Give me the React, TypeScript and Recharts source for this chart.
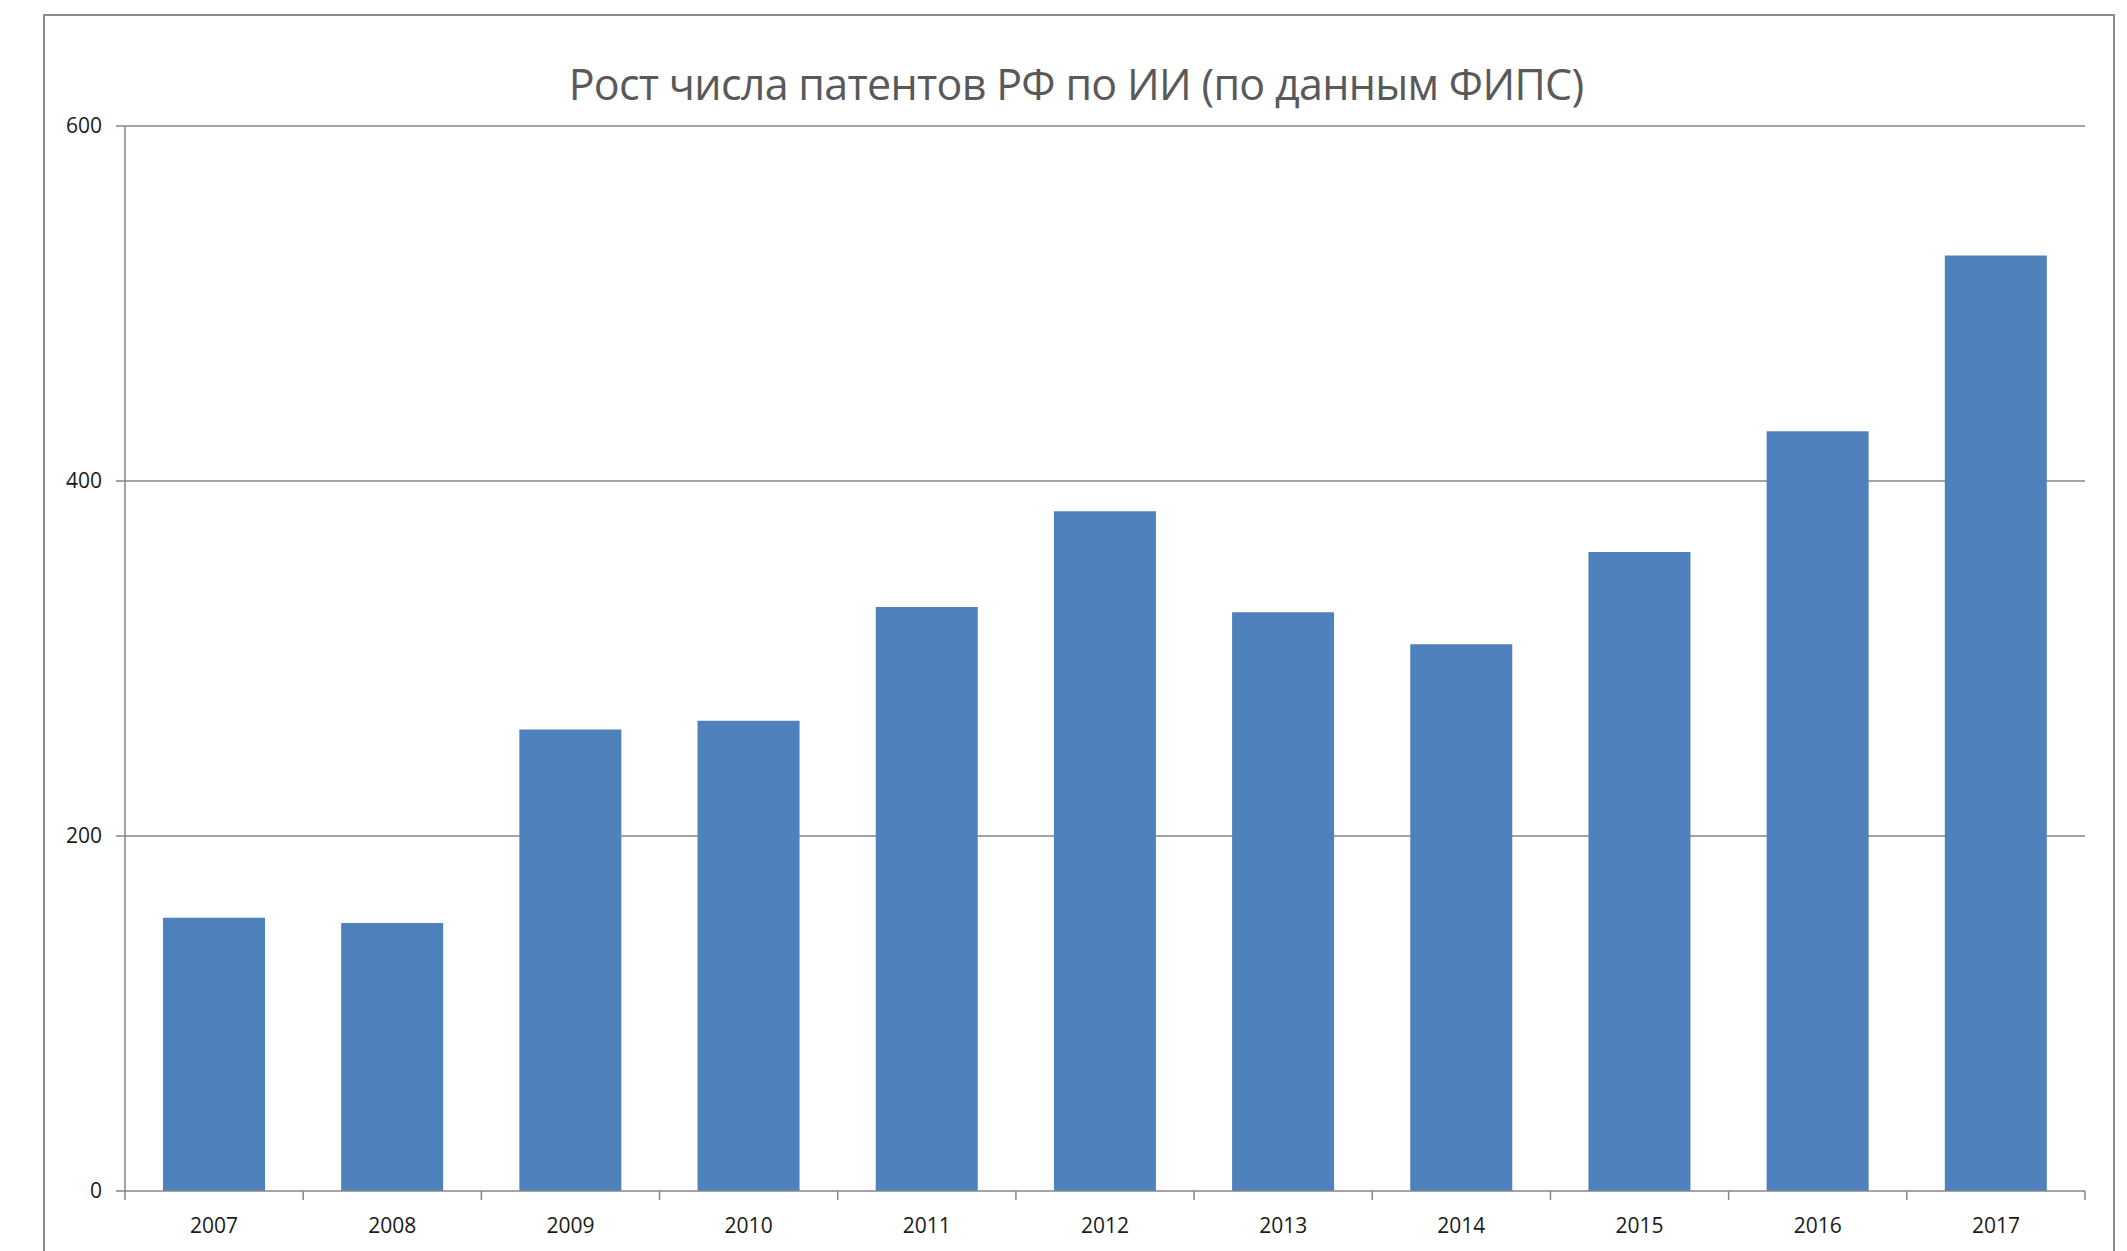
import React from 'react';
import { BarChart, Bar, XAxis, YAxis, CartesianGrid } from 'recharts';

const YEARS = ['2007', '2008', '2009', '2010', '2011', '2012', '2013', '2014', '2015', '2016', '2017'];
const PATENTS = [154, 151, 260, 265, 329, 383, 326, 308, 360, 428, 527];
const Y_TICKS = [0, 200, 400, 600];
const TITLE = 'Рост числа патентов РФ по ИИ (по данным ФИПС)';

const data = YEARS.map((year, i) => ({ year, value: PATENTS[i] }));

/* ——— Layout ——— */
const W = 2127;
const H = 1251;
const PLOT_LEFT = 125;
const PLOT_RIGHT = 2085;
const PLOT_TOP = 126;
const PLOT_BOTTOM = 1191;
const PLOT_W = PLOT_RIGHT - PLOT_LEFT;

const AXIS_GRAY = '#868686';
const BAR_BLUE = '#4F81BD';
const FONT = "'Open Sans', 'Noto Sans', sans-serif";

/* Year label centred in its band, tick mark on the band's left edge (Excel style) */
function YearTick(props: any) {
  const { x, y, payload, index } = props;
  const band = PLOT_W / YEARS.length;
  const left = x - band / 2;
  return (
    <g>
      <line x1={left} y1={y} x2={left} y2={y + 9} stroke={AXIS_GRAY} strokeWidth={1.5} />
      {index === YEARS.length - 1 && (
        <line x1={left + band} y1={y} x2={left + band} y2={y + 9} stroke={AXIS_GRAY} strokeWidth={1.5} />
      )}
      <text x={x} y={y + 42} textAnchor="middle" fontSize={21} fontFamily={FONT} fill="#1a1a1a">
        {payload.value}
      </text>
    </g>
  );
}

export default function App() {
  return (
    <div style={{ position: 'absolute', left: 0, top: 0, width: W, height: H, background: '#fff', overflow: 'hidden' }}>
      {/* outer chart frame */}
      <div
        style={{
          position: 'absolute', left: 43, top: 14, width: 2115 - 43, height: 1400,
          border: '2px solid #8c8c8c', boxSizing: 'border-box',
        }}
      />
      {/* title */}
      <div
        style={{
          position: 'absolute', left: 0, width: 2152, top: 60, textAlign: 'center',
          fontFamily: FONT, fontSize: 43, color: '#595959', lineHeight: '48px', letterSpacing: -0.7,
        }}
      >
        {TITLE}
      </div>
      <div style={{ position: 'absolute', left: 0, top: 0 }}>
        <BarChart
          width={W}
          height={H}
          data={data}
          margin={{ top: PLOT_TOP, right: W - PLOT_RIGHT, bottom: H - PLOT_BOTTOM - 50, left: PLOT_LEFT - 80 }}
          barSize={102}
        >
          <CartesianGrid vertical={false} stroke={AXIS_GRAY} strokeWidth={1.5} horizontalValues={[200, 400, 600]} />
          <XAxis
            dataKey="year"
            height={50}
            axisLine={{ stroke: AXIS_GRAY, strokeWidth: 1.5 }}
            tickLine={false}
            tickSize={0}
            tickMargin={0}
            interval={0}
            tick={<YearTick />}
          />
          <YAxis
            width={80}
            domain={[0, 600]}
            ticks={Y_TICKS}
            axisLine={{ stroke: AXIS_GRAY, strokeWidth: 1.5 }}
            tickLine={{ stroke: AXIS_GRAY, strokeWidth: 1.5 }}
            tickSize={9}
            tickMargin={14}
            tick={{ fontSize: 21, fill: '#1a1a1a', fontFamily: FONT }}
          />
          <Bar dataKey="value" fill={BAR_BLUE} isAnimationActive={false} />
        </BarChart>
      </div>
    </div>
  );
}
